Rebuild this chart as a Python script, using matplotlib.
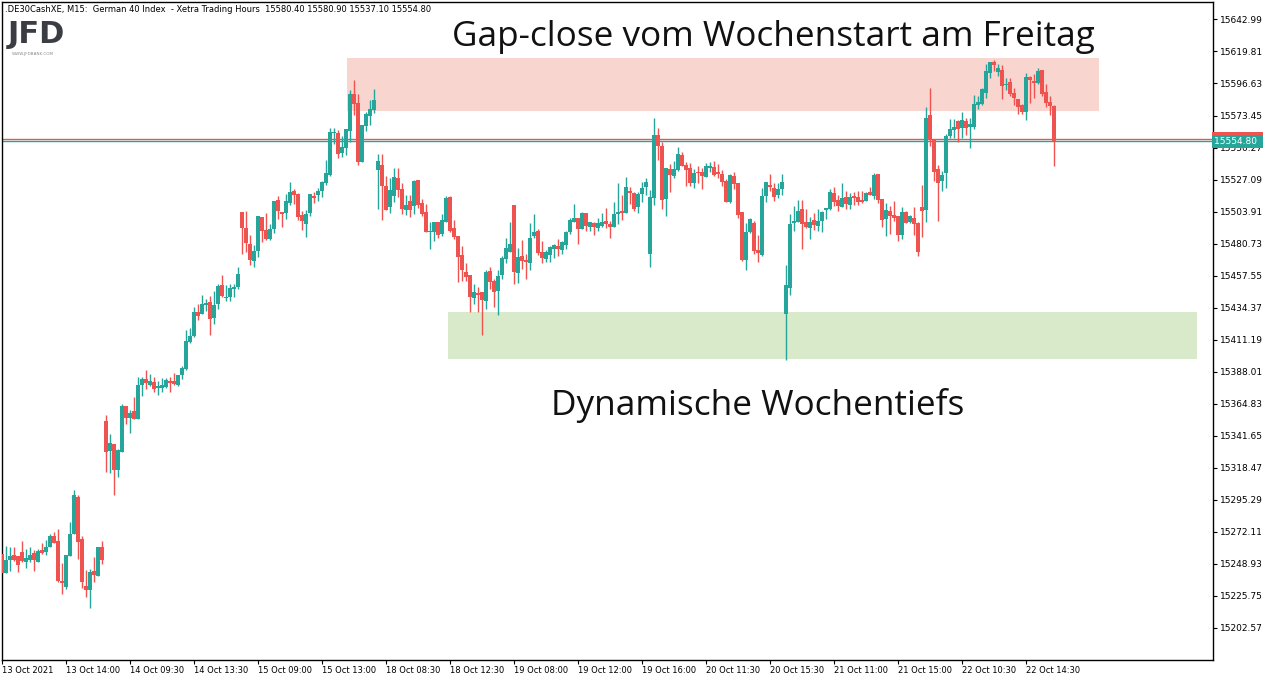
import matplotlib

matplotlib.use("Agg")
import matplotlib.pyplot as plt
import matplotlib.transforms as mtransforms
import numpy as np
from matplotlib.patches import Rectangle

# M15 candles, DE30 (German 40), 13 Oct - 22 Oct 2021
open_ = [
    15256.1, 15242.3, 15251.7, 15255.4, 15254.7, 15257.6, 15250.3, 15251.7, 15256.8, 15250.3,
    15259.0, 15257.6, 15261.1, 15269.1, 15265.5, 15236.6, 15232.2, 15254.7, 15270.5, 15297.4,
    15266.9, 15232.9, 15230.0, 15243.8, 15240.1, 15261.1, 15352.3, 15330.6, 15335.7, 15316.9,
    15329.9, 15363.2, 15354.5, 15359.6, 15353.8, 15378.4, 15382.7, 15378.4, 15380.5, 15376.2,
    15376.2, 15376.9, 15381.3, 15381.3, 15378.4, 15385.6, 15390.0, 15409.5, 15413.8, 15431.2,
    15429.8, 15436.3, 15438.4, 15426.9, 15437.0, 15450.7, 15441.3, 15442.1, 15447.9, 15449.3,
    15503.6, 15492.0, 15480.4, 15468.1, 15475.4, 15500.0, 15490.5, 15484.0, 15491.3, 15512.3,
    15503.6, 15502.9, 15510.1, 15518.8, 15516.6, 15501.4, 15494.9, 15502.9, 15515.2, 15515.9,
    15518.8, 15524.6, 15530.4, 15560.7, 15560.7, 15546.3, 15549.9, 15562.2, 15589.0, 15582.5,
    15539.8, 15565.8, 15573.1, 15577.4, 15534.0, 15537.6, 15522.4, 15507.2, 15515.2, 15528.2,
    15520.2, 15505.0, 15511.5, 15507.9, 15526.7, 15510.1, 15503.6, 15489.1, 15489.1, 15496.3,
    15487.7, 15496.3, 15514.4, 15492.0, 15486.2, 15472.5, 15460.2, 15458.0, 15441.3, 15444.9,
    15445.7, 15439.2, 15460.9, 15453.6, 15446.4, 15458.0, 15469.6, 15474.6, 15508.6, 15459.4,
    15471.7, 15468.8, 15466.7, 15486.2, 15489.8, 15474.6, 15469.6, 15472.5, 15476.8, 15479.0,
    15476.1, 15479.7, 15489.1, 15496.3, 15499.2, 15491.3, 15502.9, 15492.7, 15495.6, 15492.0,
    15493.4, 15497.1, 15494.9, 15492.7, 15502.1, 15504.3, 15502.9, 15518.8, 15517.3, 15507.2,
    15516.6, 15521.7, 15473.2, 15513.7, 15559.3, 15551.3, 15513.0, 15534.7, 15529.6, 15534.0,
    15544.8, 15537.6, 15535.4, 15524.6, 15532.5, 15532.5, 15528.9, 15535.4, 15536.1, 15532.5,
    15531.1, 15526.0, 15510.8, 15529.6, 15524.6, 15503.6, 15468.8, 15489.1, 15495.6, 15476.1,
    15472.5, 15515.2, 15523.1, 15521.0, 15515.9, 15520.2, 15429.8, 15448.6, 15495.6, 15496.3,
    15505.7, 15496.3, 15492.0, 15497.8, 15493.4, 15497.1, 15505.0, 15505.7, 15517.3, 15512.3,
    15507.2, 15514.4, 15508.6, 15515.2, 15514.4, 15512.3, 15511.5, 15518.1, 15515.2, 15531.1,
    15513.0, 15498.5, 15504.3, 15501.4, 15500.7, 15486.9, 15503.6, 15496.3, 15499.2, 15495.6,
    15507.2, 15505.0, 15573.8, 15556.4, 15534.7, 15526.0, 15531.8, 15558.6, 15562.9, 15569.4,
    15564.4, 15569.4, 15565.1, 15565.1, 15581.0, 15581.7, 15589.7, 15604.2, 15612.1, 15604.9,
    15606.3, 15595.5, 15597.7, 15589.7, 15585.4, 15581.0, 15575.9, 15601.3, 15598.4, 15596.9,
    15606.3, 15590.4, 15583.2, 15580.4,
]
high = [
    15256.1, 15261.9, 15261.1, 15261.1, 15254.7, 15265.5, 15259.7, 15261.1, 15259.0, 15259.7,
    15264.0, 15266.2, 15270.5, 15272.0, 15274.1, 15249.6, 15255.4, 15279.2, 15302.4, 15298.8,
    15269.1, 15244.5, 15245.2, 15253.9, 15261.1, 15265.5, 15356.7, 15342.9, 15335.7, 15332.1,
    15364.6, 15363.2, 15360.3, 15369.7, 15384.2, 15384.2, 15389.2, 15386.3, 15384.2, 15381.3,
    15383.4, 15383.4, 15384.2, 15387.1, 15385.6, 15392.1, 15418.2, 15419.6, 15434.8, 15437.0,
    15443.5, 15440.6, 15442.8, 15446.4, 15451.5, 15458.0, 15450.7, 15451.5, 15451.5, 15463.8,
    15503.6, 15504.3, 15486.9, 15479.7, 15500.7, 15500.0, 15502.9, 15494.9, 15511.5, 15515.2,
    15503.6, 15516.6, 15525.3, 15520.2, 15517.3, 15504.3, 15505.0, 15516.6, 15518.1, 15521.0,
    15526.0, 15541.2, 15564.4, 15564.4, 15562.9, 15558.6, 15563.6, 15591.9, 15599.1, 15589.0,
    15566.5, 15575.9, 15584.6, 15592.6, 15545.5, 15545.5, 15529.6, 15528.2, 15535.4, 15535.4,
    15524.6, 15515.9, 15515.9, 15526.7, 15526.7, 15513.0, 15509.4, 15496.3, 15496.3, 15496.3,
    15502.1, 15515.2, 15515.2, 15497.8, 15486.2, 15479.0, 15466.7, 15458.0, 15451.5, 15449.3,
    15445.7, 15461.6, 15463.8, 15455.1, 15461.6, 15471.7, 15484.8, 15496.3, 15508.6, 15477.5,
    15483.3, 15473.2, 15495.6, 15502.1, 15491.3, 15482.6, 15476.1, 15479.0, 15480.4, 15484.0,
    15482.6, 15489.8, 15499.2, 15509.4, 15499.2, 15503.6, 15502.9, 15496.3, 15496.3, 15499.2,
    15502.9, 15506.5, 15497.1, 15510.8, 15524.6, 15515.9, 15528.9, 15521.7, 15518.1, 15518.1,
    15525.3, 15528.2, 15519.5, 15571.6, 15564.4, 15554.2, 15535.4, 15538.3, 15540.5, 15550.6,
    15547.0, 15539.8, 15539.0, 15534.7, 15536.9, 15535.4, 15539.0, 15539.8, 15540.5, 15538.3,
    15534.0, 15527.5, 15531.1, 15532.5, 15524.6, 15503.6, 15495.6, 15499.2, 15497.1, 15486.9,
    15521.0, 15525.3, 15531.1, 15524.6, 15524.6, 15531.1, 15465.2, 15502.1, 15507.9, 15512.3,
    15512.3, 15505.7, 15500.0, 15502.9, 15505.7, 15504.3, 15506.5, 15520.2, 15521.7, 15515.9,
    15524.6, 15518.8, 15517.3, 15518.1, 15518.8, 15518.8, 15518.1, 15521.7, 15531.8, 15531.1,
    15513.0, 15510.1, 15507.9, 15511.5, 15500.7, 15507.2, 15504.3, 15501.4, 15507.2, 15496.3,
    15523.1, 15579.6, 15593.3, 15556.4, 15537.6, 15533.2, 15560.0, 15570.9, 15570.9, 15570.2,
    15575.9, 15571.6, 15571.6, 15588.2, 15587.5, 15593.3, 15610.7, 15612.1, 15613.6, 15610.7,
    15610.0, 15600.6, 15600.6, 15593.3, 15585.4, 15581.7, 15604.2, 15602.0, 15603.4, 15607.8,
    15606.3, 15596.2, 15587.5, 15580.9,
]
low = [
    15242.3, 15242.3, 15243.8, 15251.0, 15243.1, 15250.3, 15245.9, 15250.3, 15243.8, 15250.3,
    15256.1, 15255.4, 15261.1, 15264.0, 15235.8, 15227.1, 15230.7, 15254.7, 15270.5, 15252.4,
    15231.5, 15225.0, 15217.0, 15235.8, 15240.1, 15248.8, 15315.4, 15314.7, 15298.8, 15311.8,
    15329.9, 15350.2, 15343.6, 15353.8, 15353.8, 15370.4, 15375.5, 15377.7, 15373.3, 15371.1,
    15373.3, 15376.2, 15373.3, 15378.4, 15377.7, 15382.7, 15389.2, 15408.8, 15413.1, 15425.4,
    15429.8, 15431.9, 15414.6, 15422.5, 15433.4, 15442.1, 15439.2, 15439.2, 15442.1, 15447.9,
    15473.2, 15474.6, 15465.2, 15463.8, 15471.0, 15481.9, 15483.3, 15483.3, 15488.4, 15498.5,
    15492.7, 15498.5, 15508.6, 15509.4, 15497.8, 15490.5, 15485.5, 15500.7, 15510.1, 15511.5,
    15514.4, 15523.1, 15529.6, 15552.8, 15542.7, 15543.4, 15544.8, 15554.2, 15573.8, 15537.6,
    15539.8, 15562.2, 15566.5, 15575.2, 15505.7, 15497.8, 15505.0, 15502.9, 15510.8, 15514.4,
    15502.1, 15501.4, 15500.0, 15502.1, 15506.5, 15500.7, 15489.1, 15476.8, 15482.6, 15484.8,
    15486.2, 15496.3, 15489.1, 15484.0, 15452.9, 15453.6, 15453.6, 15431.2, 15437.0, 15431.2,
    15414.6, 15433.4, 15447.9, 15434.8, 15429.0, 15455.1, 15466.7, 15474.6, 15451.5, 15452.2,
    15462.3, 15455.1, 15461.6, 15484.8, 15472.5, 15466.7, 15467.4, 15467.4, 15470.3, 15471.7,
    15473.2, 15476.8, 15487.7, 15496.3, 15480.4, 15491.3, 15489.8, 15489.8, 15486.9, 15489.8,
    15492.7, 15492.0, 15484.8, 15492.7, 15494.9, 15497.8, 15502.9, 15509.4, 15504.3, 15502.9,
    15510.8, 15515.9, 15463.8, 15508.6, 15541.2, 15505.7, 15500.7, 15518.1, 15528.2, 15533.2,
    15536.9, 15522.4, 15522.4, 15521.0, 15524.6, 15520.2, 15528.9, 15532.5, 15529.6, 15528.2,
    15522.4, 15510.8, 15510.1, 15520.2, 15499.2, 15468.1, 15461.6, 15488.4, 15473.2, 15467.4,
    15471.7, 15510.8, 15518.8, 15511.5, 15513.7, 15515.9, 15396.5, 15443.5, 15489.8, 15496.3,
    15476.8, 15492.0, 15484.0, 15490.5, 15489.8, 15489.1, 15498.5, 15505.0, 15507.9, 15504.3,
    15507.2, 15505.7, 15505.7, 15508.6, 15508.6, 15510.1, 15511.5, 15515.9, 15513.0, 15510.1,
    15492.7, 15486.2, 15487.7, 15497.1, 15482.6, 15484.0, 15495.6, 15495.6, 15486.9, 15471.7,
    15485.5, 15496.3, 15551.3, 15526.0, 15497.1, 15518.8, 15521.0, 15557.1, 15557.1, 15554.2,
    15557.1, 15559.3, 15549.9, 15563.6, 15578.1, 15581.0, 15586.1, 15600.6, 15605.6, 15602.0,
    15585.4, 15591.9, 15587.5, 15581.0, 15574.5, 15574.5, 15570.2, 15582.5, 15586.1, 15596.2,
    15587.5, 15579.6, 15573.8, 15537.1,
]
close = [
    15242.3, 15251.7, 15254.7, 15251.7, 15248.1, 15251.0, 15253.2, 15255.4, 15251.7, 15258.3,
    15256.8, 15261.1, 15269.1, 15264.0, 15236.6, 15235.1, 15255.4, 15270.5, 15298.8, 15264.8,
    15235.8, 15230.0, 15243.1, 15240.9, 15261.1, 15251.7, 15329.9, 15336.4, 15316.9, 15331.3,
    15363.2, 15354.5, 15358.1, 15353.8, 15378.4, 15382.7, 15379.8, 15381.3, 15375.5, 15377.7,
    15378.4, 15382.0, 15379.8, 15379.1, 15385.6, 15390.7, 15410.2, 15413.8, 15431.2, 15428.3,
    15437.0, 15437.7, 15426.1, 15436.3, 15450.0, 15442.8, 15442.1, 15448.6, 15449.3, 15458.7,
    15492.0, 15481.1, 15468.8, 15475.4, 15500.7, 15489.8, 15484.0, 15491.3, 15511.5, 15504.3,
    15502.1, 15511.5, 15518.1, 15515.9, 15500.0, 15497.1, 15502.1, 15516.6, 15513.7, 15518.8,
    15525.3, 15531.8, 15561.5, 15561.5, 15545.5, 15550.6, 15563.6, 15589.0, 15581.7, 15539.8,
    15566.5, 15574.5, 15578.1, 15584.6, 15540.5, 15522.4, 15505.0, 15519.5, 15528.9, 15519.5,
    15505.7, 15508.6, 15505.0, 15526.0, 15508.6, 15502.1, 15489.1, 15489.8, 15496.3, 15486.9,
    15497.8, 15513.7, 15489.8, 15485.5, 15471.0, 15461.6, 15456.5, 15442.1, 15445.7, 15443.5,
    15439.9, 15460.2, 15452.9, 15445.7, 15457.3, 15470.3, 15477.5, 15480.4, 15460.2, 15471.0,
    15468.1, 15467.4, 15484.8, 15489.1, 15473.9, 15470.3, 15474.6, 15478.2, 15479.7, 15476.8,
    15481.9, 15489.1, 15497.8, 15499.2, 15491.3, 15502.9, 15493.4, 15496.3, 15492.7, 15495.6,
    15496.3, 15494.9, 15492.7, 15502.1, 15503.6, 15502.9, 15521.7, 15517.3, 15505.7, 15516.6,
    15521.0, 15525.3, 15514.4, 15559.3, 15551.3, 15512.3, 15535.4, 15530.4, 15534.7, 15545.5,
    15536.9, 15534.0, 15524.6, 15531.8, 15531.8, 15529.6, 15536.9, 15536.9, 15530.4, 15531.1,
    15525.3, 15510.8, 15530.4, 15523.8, 15501.4, 15468.8, 15489.1, 15498.5, 15475.4, 15473.9,
    15515.2, 15525.3, 15521.7, 15514.4, 15520.2, 15525.3, 15450.7, 15494.9, 15497.1, 15504.3,
    15494.9, 15492.7, 15496.3, 15494.2, 15497.1, 15503.6, 15506.5, 15518.1, 15510.8, 15507.9,
    15513.7, 15509.4, 15514.4, 15513.7, 15510.8, 15510.8, 15517.3, 15515.9, 15530.4, 15512.3,
    15497.8, 15505.0, 15500.7, 15499.2, 15486.9, 15503.6, 15495.6, 15500.7, 15494.9, 15474.6,
    15504.3, 15571.6, 15555.7, 15532.5, 15524.6, 15530.4, 15558.6, 15563.6, 15565.1, 15563.6,
    15570.2, 15564.4, 15567.3, 15581.7, 15583.2, 15592.6, 15605.6, 15612.1, 15610.0, 15607.8,
    15594.8, 15596.2, 15589.0, 15586.1, 15579.6, 15575.9, 15601.3, 15599.1, 15596.9, 15605.6,
    15589.0, 15582.5, 15580.3, 15554.8,
]

time_labels = [
    "13 Oct 2021", "13 Oct 14:00", "14 Oct 09:30", "14 Oct 13:30", "15 Oct 09:00",
    "15 Oct 13:00", "18 Oct 08:30", "18 Oct 12:30", "19 Oct 08:00", "19 Oct 12:00",
    "19 Oct 16:00", "20 Oct 11:30", "20 Oct 15:30", "21 Oct 11:00", "21 Oct 15:00",
    "22 Oct 10:30", "22 Oct 14:30",
]
bars_per_label = 16

price_ticks = [
    15642.99, 15619.81, 15596.63, 15573.45, 15550.27, 15527.09, 15503.91, 15480.73,
    15457.55, 15434.37, 15411.19, 15388.01, 15364.83, 15341.65, 15318.47, 15295.29,
    15272.11, 15248.93, 15225.75, 15202.57,
]

bid = 15554.80
ask = 15556.40

# zones drawn on the chart: (first bar, last bar, low price, high price)
gap_zone = (86.25, 274.25, 15576.6, 15615.0)
low_zone = (111.5, 298.75, 15397.3, 15431.3)

header = (".DE30CashXE, M15:  German 40 Index  - Xetra Trading Hours  "
          "15580.40 15580.90 15537.10 15554.80")

TEAL = "#26A69A"
RED = "#EF5350"

o = np.array(open_)
h = np.array(high)
l = np.array(low)
c = np.array(close)
x = np.arange(len(c))
colors = np.where(c >= o, TEAL, RED)

fig = plt.figure(figsize=(12.72, 6.81), dpi=100)
ax = fig.add_axes([2 / 1272, 21 / 681, 1211 / 1272, 658 / 681])

for zone, col in [(gap_zone, "#F8D5CF"), (low_zone, "#D9EACB")]:
    x0, x1, y0, y1 = zone
    ax.add_patch(Rectangle((x0, y0), x1 - x0, y1 - y0, facecolor=col,
                           edgecolor="none", zorder=0))

ax.axhline(ask, color=RED, lw=1.0, zorder=1)
ax.axhline(bid, color=TEAL, lw=1.0, zorder=1)

ax.vlines(x, l, h, colors=colors, lw=1.0, zorder=2)
body_lo = np.minimum(o, c)
body_h = np.maximum(np.abs(c - o), 0.8)
ax.bar(x, body_h, bottom=body_lo, width=0.8, color=colors, linewidth=0, zorder=3)

ax.set_xlim(0, 302.75)
ax.set_ylim(15179.4, 15655.6)

ax.yaxis.tick_right()
ax.set_yticks(price_ticks)
ax.set_yticklabels([f"{p:.2f}" for p in price_ticks])
ax.tick_params(axis="y", direction="out", length=3, width=0.8, pad=2,
               labelsize=6.5, colors="black")
ax.set_xticks(np.arange(len(time_labels)) * bars_per_label)
ax.set_xticklabels(time_labels)
ax.tick_params(axis="x", direction="out", length=3, width=0.8, pad=1,
               labelsize=6, colors="black")
for lbl in ax.get_xticklabels():
    lbl.set_horizontalalignment("left")
for sp in ax.spines.values():
    sp.set_linewidth(1.0)
    sp.set_color("black")

# price tags on the right axis
trans = mtransforms.blended_transform_factory(ax.transAxes, ax.transData)
ax.text(1.0012, ask, "15556.40 ", transform=trans, fontsize=6.5, color=RED,
        va="center", ha="left", zorder=5, clip_on=False,
        bbox=dict(boxstyle="square,pad=0.25", fc=RED, ec="none"))
ax.text(1.0012, bid, "15554.80 ", transform=trans, fontsize=6.5, color="white",
        va="center", ha="left", zorder=6, clip_on=False,
        bbox=dict(boxstyle="square,pad=0.25", fc=TEAL, ec="none"))

# annotations
ax.text(192.75, 15623.7, "Gap-close vom Wochenstart am Freitag", fontsize=25.3,
        family="Open Sans", ha="center", va="baseline", color="#111111", zorder=6)
ax.text(189.0, 15356.7, "Dynamische Wochentiefs", fontsize=25.3,
        family="Open Sans", ha="center", va="baseline", color="#111111", zorder=6)

# header and logo
fig.text(5 / 1272, 1 - 9 / 681, header, fontsize=6, va="center", ha="left")
fig.text(8 / 1272, 1 - 43 / 681, "JFD", fontsize=22, fontweight="bold",
         color="#3a3d42", va="baseline", ha="left")
fig.text(12 / 1272, 1 - 54 / 681, "WWW.JFDBANK.COM", fontsize=3,
         color="#888888", va="center", ha="left")

fig.savefig("out.png", dpi=100)
